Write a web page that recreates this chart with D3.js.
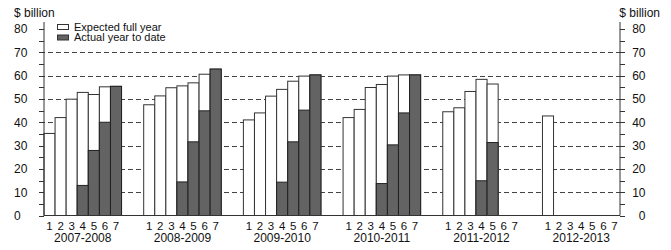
<!DOCTYPE html>
<html>
<head>
<meta charset="utf-8">
<script src="https://cdn.jsdelivr.net/npm/d3@7"></script>
<style>
  body { margin: 0; background: #fff; }
  text { font-family: "Liberation Sans", Arial, sans-serif; fill: #111; }
</style>
</head>
<body>
<div id="chart"></div>
<script>
const years = ["2007-2008", "2008-2009", "2009-2010", "2010-2011", "2011-2012", "2012-2013"];
const months = ["1", "2", "3", "4", "5", "6", "7"];

// Expected full year (white bars)
const expected = [
  [35.2, 42.0, 49.9, 52.8, 51.9, 55.2, 55.4],
  [47.5, 51.3, 54.8, 55.6, 56.9, 60.6, 62.8],
  [41.0, 44.0, 51.2, 54.1, 57.6, 59.8, 60.3],
  [42.0, 45.5, 54.9, 56.2, 59.8, 60.3, 60.3],
  [44.5, 46.2, 53.2, 58.4, 56.4, null, null],
  [42.7, null, null, null, null, null, null]
];

// Actual year to date (dark bars)
const actual = [
  [null, null, null, 12.9, 27.9, 40.0, 55.4],
  [null, null, null, 14.4, 31.6, 44.9, 62.8],
  [null, null, null, 14.3, 31.6, 45.2, 60.3],
  [null, null, null, 13.7, 30.3, 44.0, 60.3],
  [null, null, null, 14.9, 31.3, null, null],
  [null, null, null, null, null, null, null]
];

const yTicks = [0, 10, 20, 30, 40, 50, 60, 70, 80];
const gridTicks = [10, 20, 30, 40, 50, 60, 70];

const width = 671, height = 250;
const left = 44, right = 620;

const svg = d3.select("#chart").append("svg")
  .attr("width", width)
  .attr("height", height);

// 9 slots per year (7 months + 2 gap), last gap dropped
const slots = d3.range(years.length * 9 - 2);
const x = d3.scaleBand()
  .domain(slots)
  .range([left, right])
  .padding(0);

const y = d3.scaleLinear()
  .domain([0, 83])
  .range([215.5, 22]);

const slotOf = (g, i) => g * 9 + i;

// dashed gridlines
svg.append("g")
  .selectAll("line")
  .data(gridTicks)
  .enter().append("line")
  .attr("x1", left - 4)
  .attr("x2", right + 4)
  .attr("y1", d => Math.round(y(d)) + 0.5)
  .attr("y2", d => Math.round(y(d)) + 0.5)
  .attr("stroke", "#444")
  .attr("stroke-dasharray", "5,3");

// flatten data
const cells = [];
years.forEach((yr, g) => {
  months.forEach((m, i) => {
    cells.push({ g, i, exp: expected[g][i], act: actual[g][i] });
  });
});

// expected full year
svg.append("g")
  .selectAll("rect")
  .data(cells.filter(d => d.exp != null))
  .enter().append("rect")
  .attr("x", d => x(slotOf(d.g, d.i)))
  .attr("y", d => y(d.exp))
  .attr("width", x.bandwidth())
  .attr("height", d => y(0) - y(d.exp))
  .attr("fill", "#fff")
  .attr("stroke", "#333")
  .attr("stroke-width", 1);

// actual year to date
svg.append("g")
  .selectAll("rect")
  .data(cells.filter(d => d.act != null))
  .enter().append("rect")
  .attr("x", d => x(slotOf(d.g, d.i)))
  .attr("y", d => y(d.act))
  .attr("width", x.bandwidth())
  .attr("height", d => y(0) - y(d.act))
  .attr("fill", "#636363")
  .attr("stroke", "#222")
  .attr("stroke-width", 1);

// baseline
svg.append("line")
  .attr("x1", left)
  .attr("x2", right)
  .attr("y1", y(0))
  .attr("y2", y(0))
  .attr("stroke", "#333");

// y axes with minor ticks
const allTicks = d3.range(0, 81, 5);
[{ ax: left, dir: -1 }, { ax: right, dir: 1 }].forEach(s => {
  const g = svg.append("g");
  g.append("line")
    .attr("x1", s.ax).attr("x2", s.ax)
    .attr("y1", y(0)).attr("y2", y(83))
    .attr("stroke", "#333");
  g.selectAll(".tk")
    .data(allTicks)
    .enter().append("line")
    .attr("x1", s.ax).attr("x2", s.ax + s.dir * 5)
    .attr("y1", d => Math.round(y(d)) + 0.5)
    .attr("y2", d => Math.round(y(d)) + 0.5)
    .attr("stroke", "#333");
  g.selectAll("text")
    .data(yTicks)
    .enter().append("text")
    .attr("x", s.dir < 0 ? 14 : 645.5)
    .attr("y", d => y(d) + 4.5)
    .attr("text-anchor", s.dir < 0 ? "start" : "end")
    .style("font-size", "12px")
    .text(d => d);
});

// unit labels
svg.append("text").attr("x", 14).attr("y", 17)
  .style("font-size", "12px").text("$ billion");
svg.append("text").attr("x", 660).attr("y", 17)
  .attr("text-anchor", "end")
  .style("font-size", "12px").text("$ billion");

// month labels
svg.append("g")
  .selectAll("text")
  .data(cells)
  .enter().append("text")
  .attr("x", d => x(slotOf(d.g, d.i)) + x.bandwidth() / 2)
  .attr("y", 230)
  .attr("text-anchor", "middle")
  .style("font-size", "11.5px")
  .text(d => months[d.i]);

// year labels
svg.append("g")
  .selectAll("text")
  .data(years)
  .enter().append("text")
  .attr("x", (d, g) => x(slotOf(g, 3)) + x.bandwidth() / 2)
  .attr("y", 242)
  .attr("text-anchor", "middle")
  .style("font-size", "12px")
  .text(d => d);

// legend
const legendItems = [
  { label: "Expected full year", fill: "#fff" },
  { label: "Actual year to date", fill: "#636363" }
];
const legend = svg.append("g").attr("transform", "translate(57,24)");
legend.selectAll("rect")
  .data(legendItems)
  .enter().append("rect")
  .attr("x", 0.5)
  .attr("y", (d, i) => i * 10.5 + 0.5)
  .attr("width", 11)
  .attr("height", 5)
  .attr("fill", d => d.fill)
  .attr("stroke", "#333");
legend.selectAll("text")
  .data(legendItems)
  .enter().append("text")
  .attr("x", 17)
  .attr("y", (d, i) => i * 10.5 + 6.5)
  .style("font-size", "11px")
  .text(d => d.label);
</script>
</body>
</html>
